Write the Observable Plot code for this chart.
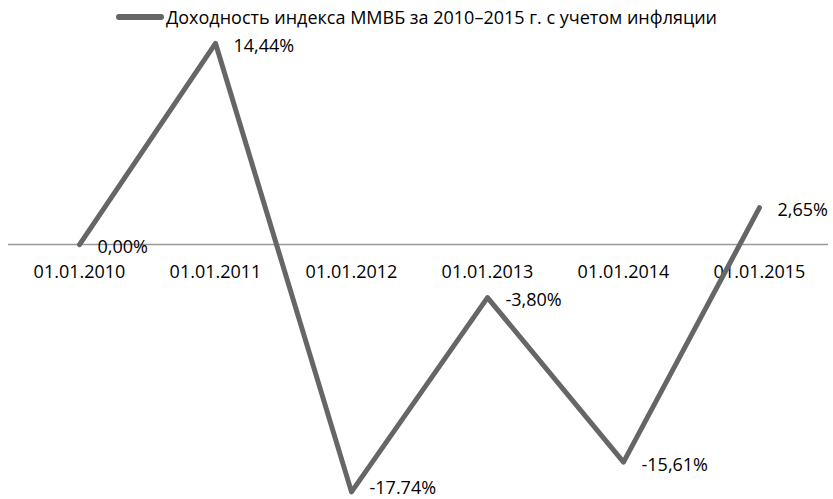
<!DOCTYPE html>
<html><head><meta charset="utf-8">
<script src="https://cdn.jsdelivr.net/npm/d3@7"></script>
<script src="https://cdn.jsdelivr.net/npm/@observablehq/plot@0.6"></script>
<style>
body{margin:0;background:#fff;font-family:"Open Sans",sans-serif;}
#legend{height:34px;display:flex;align-items:center;justify-content:center;font-size:18px;color:#000;}
#legend .sw{display:inline-block;width:48px;height:6px;background:#666;border-radius:3px;margin-right:2px;}
</style></head>
<body>
<div id="legend"><span class="sw"></span><span id="ltxt"></span></div>
<div id="chart"></div>
<script>
const seriesName = "Доходность индекса ММВБ за 2010–2015 г. с учетом инфляции";
const dates = ["01.01.2010","01.01.2011","01.01.2012","01.01.2013","01.01.2014","01.01.2015"];
const values = [0.00, 14.44, -17.74, -3.80, -15.61, 2.65];
const labels = ["0,00%","14,44%","-17.74%","-3,80%","-15,61%","2,65%"];

document.getElementById("ltxt").textContent = seriesName;
const data = dates.map((d,i)=>({date:d, value:values[i], label:labels[i]}));
const minV = d3.min(values);

const chart = Plot.plot({
  width: 833, height: 465,
  marginLeft: 8, marginRight: 5, marginTop: 0, marginBottom: 0,
  style: {fontFamily: "'Open Sans', sans-serif", background: "#fff"},
  x: {type: "point", domain: dates, range: [77, 761], padding: 0, axis: null},
  y: {domain: [-18, 15], range: [461, 1], axis: null},
  marks: [
    Plot.ruleY([0], {stroke: "#999", strokeWidth: 1.5}),
    Plot.text(data, {x: "date", y: () => 0, text: "date", dy: 28, fontSize: 18, fill: "#000"}),
    Plot.line(data, {x: "date", y: "value", stroke: "#666", strokeWidth: 5, strokeLinecap: "round"}),
    Plot.text(data.filter(d => d.value !== minV), {x: "date", y: "value", text: "label", dx: 18, dy: 3, textAnchor: "start", fontSize: 18, fill: "#000"}),
    Plot.text(data.filter(d => d.value === minV), {x: "date", y: "value", text: "label", dx: 18, dy: -4, textAnchor: "start", fontSize: 18, fill: "#000"})
  ]
});
document.getElementById("chart").appendChild(chart);
</script>
</body></html>
